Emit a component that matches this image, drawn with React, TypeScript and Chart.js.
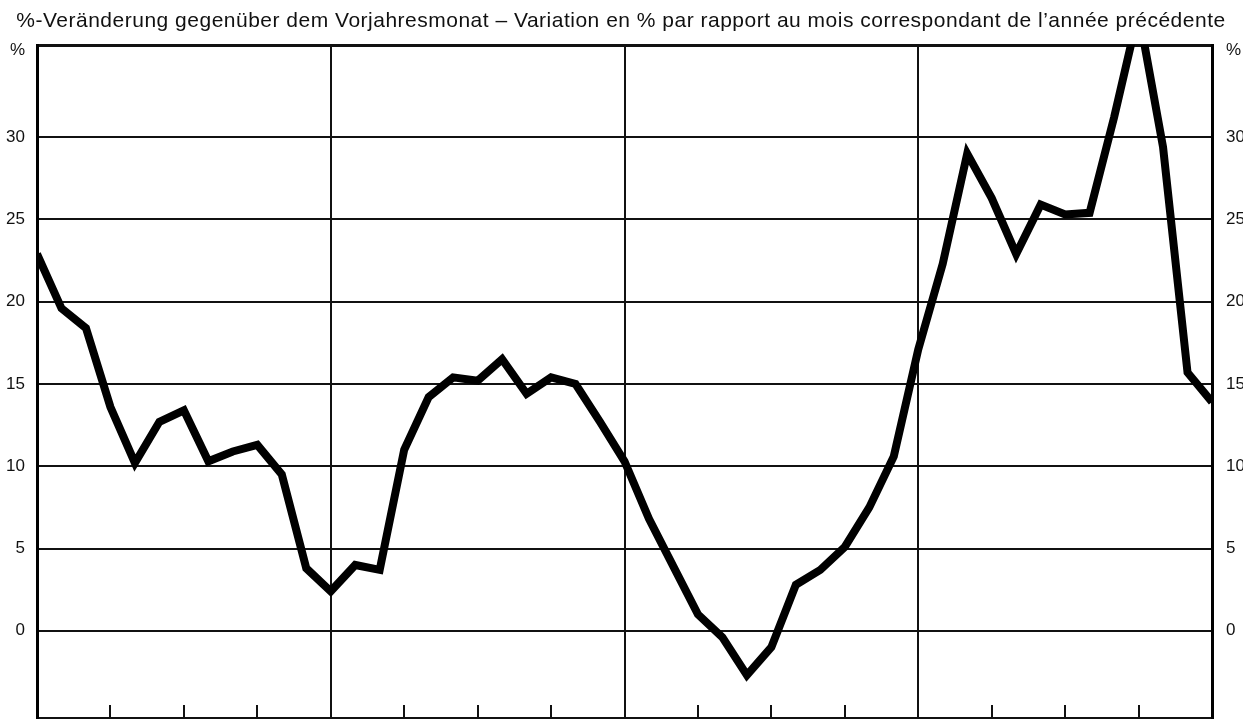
import React, { useEffect, useRef } from 'react';
import { Chart, registerables } from 'chart.js';

Chart.register(...registerables);

const TITLE =
  '%-Veränderung gegenüber dem Vorjahresmonat – Variation en % par rapport au mois correspondant de l’année précédente';

// Monthly values, 4 years (49 points, month boundaries)
const year1 = [22.9, 19.6, 18.4, 13.6, 10.2, 12.7, 13.4, 10.3, 10.9, 11.3, 9.5, 3.8, 2.4];
const year2 = [4.0, 3.7, 11.0, 14.2, 15.4, 15.2, 16.5, 14.4, 15.4, 15.0, 12.7, 10.3];
const year3 = [6.8, 3.9, 1.0, -0.4, -2.7, -1.0, 2.8, 3.7, 5.1, 7.5, 10.6, 17.1];
const year4 = [22.3, 29.0, 26.3, 22.9, 25.9, 25.3, 25.4, 31.2, 37.6, 29.4, 15.7, 13.9];
const values = [...year1, ...year2, ...year3, ...year4];

const yMin = -5.3;
const yMax = 35.6;
const unitLabelValue = 35.25;
const yTickValues = [0, 5, 10, 15, 20, 25, 30];
const yearBoundaries = [0, 12, 24, 36, 48];
const quarterTicks = [3, 6, 9, 15, 18, 21, 27, 30, 33, 39, 42, 45];

const FONT = '"Liberation Sans", Arial, Helvetica, sans-serif';

export default function App() {
  const canvasRef = useRef<HTMLCanvasElement | null>(null);

  useEffect(() => {
    const canvas = canvasRef.current;
    if (!canvas) return;

    const points = values.map((v, i) => ({ x: i, y: v }));

    const yTicksBuilder = (scale: any) => {
      scale.ticks = [yMin, ...yTickValues, unitLabelValue, yMax].map((v) => ({ value: v }));
    };
    const yLabel = (value: any) => {
      if (value === unitLabelValue) return '%';
      if (value === yMin || value === yMax) return '';
      return String(value);
    };

    const extras = {
      id: 'extras',
      beforeDatasetsDraw(chart: any) {
        const { ctx, chartArea, scales } = chart;
        ctx.save();
        ctx.strokeStyle = '#111';
        ctx.lineWidth = 2;
        for (const q of quarterTicks) {
          const x = Math.round(scales.x.getPixelForValue(q));
          ctx.beginPath();
          ctx.moveTo(x, chartArea.bottom);
          ctx.lineTo(x, chartArea.bottom - 13);
          ctx.stroke();
        }
        ctx.restore();
      },
      afterDraw(chart: any) {
        const { ctx } = chart;
        ctx.save();
        ctx.fillStyle = '#111';
        ctx.font = `21px ${FONT}`;
        try {
          (ctx as any).letterSpacing = '0.5px';
        } catch (e) {}
        ctx.textAlign = 'center';
        ctx.textBaseline = 'alphabetic';
        ctx.fillText(TITLE, 621, 27);
        ctx.restore();
      },
    };

    const chart = new Chart(canvas, {
      type: 'line',
      data: {
        datasets: [
          {
            data: points,
            borderColor: '#000',
            borderWidth: 8,
            borderJoinStyle: 'miter',
            pointRadius: 0,
            tension: 0,
            fill: false,
            clip: 0,
          },
        ],
      },
      options: {
        animation: false,
        responsive: false,
        maintainAspectRatio: false,
        layout: { padding: { top: 45, bottom: 1, left: 0, right: 0 } },
        plugins: {
          legend: { display: false },
          tooltip: { enabled: false },
          title: { display: false },
        },
        scales: {
          x: {
            type: 'linear',
            min: 0,
            max: 48,
            afterBuildTicks: (scale: any) => {
              scale.ticks = yearBoundaries.map((v) => ({ value: v }));
            },
            afterFit: (scale: any) => {
              scale.height = 0;
              scale.paddingLeft = 0;
              scale.paddingRight = 0;
            },
            ticks: { display: false },
            border: { display: false },
            grid: { color: '#111', lineWidth: 2, drawTicks: false },
          },
          y: {
            type: 'linear',
            position: 'left',
            min: yMin,
            max: yMax,
            afterBuildTicks: yTicksBuilder,
            afterFit: (scale: any) => {
              scale.width = 37;
              scale.paddingTop = 0;
              scale.paddingBottom = 0;
            },
            ticks: {
              callback: yLabel,
              color: '#111',
              padding: 12,
              font: { family: FONT, size: 17 },
              autoSkip: false,
            },
            border: { display: true, color: '#000', width: 3 },
            grid: {
              color: (ctx: any) =>
                ctx.tick && ctx.tick.value === unitLabelValue ? 'rgba(0,0,0,0)' : '#111',
              lineWidth: (ctx: any) => (ctx.tick && ctx.tick.value === yMax ? 3 : 2),
              drawTicks: false,
            },
          },
          y2: {
            type: 'linear',
            position: 'right',
            min: yMin,
            max: yMax,
            afterBuildTicks: yTicksBuilder,
            afterFit: (scale: any) => {
              scale.width = 31;
              scale.paddingTop = 0;
              scale.paddingBottom = 0;
            },
            ticks: {
              callback: yLabel,
              color: '#111',
              padding: 14,
              font: { family: FONT, size: 17 },
              autoSkip: false,
            },
            border: { display: true, color: '#000', width: 3 },
            grid: { drawOnChartArea: false, drawTicks: false },
          },
        },
      },
      plugins: [extras],
    } as any);

    return () => {
      chart.destroy();
    };
  }, []);

  return (
    <div style={{ position: 'absolute', left: 0, top: 0, width: 1243, height: 719, background: '#fff' }}>
      <canvas ref={canvasRef} width={1243} height={719} style={{ display: 'block' }} />
    </div>
  );
}
